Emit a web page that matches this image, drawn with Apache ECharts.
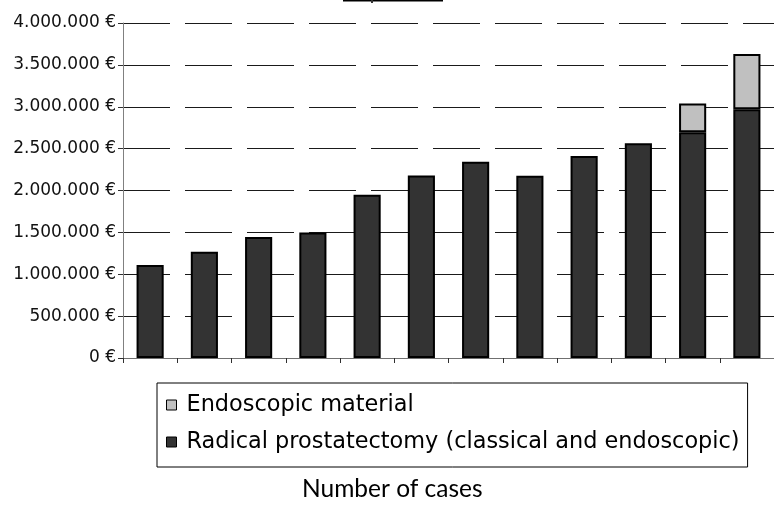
<!DOCTYPE html>
<html>
<head>
<meta charset="utf-8">
<style>
  html, body { margin: 0; padding: 0; background: #fff; }
  #chart { width: 774px; height: 509px; }
</style>
<script src="https://cdn.jsdelivr.net/npm/echarts@6/dist/echarts.min.js"></script>
</head>
<body>
<div id="chart"></div>
<script>
// Twelve yearly groups of cases, costs in euro
const categories = ['1', '2', '3', '4', '5', '6', '7', '8', '9', '10', '11', '12'];
const prostatectomyCost = [1110000, 1270000, 1445000, 1500000, 1950000, 2178000, 2342000, 2175000, 2413000, 2565000, 2696000, 2969000];
const endoscopicMaterialCost = [null, null, null, null, null, null, null, null, null, null, 344000, 661000];
const yTicks = [0, 500000, 1000000, 1500000, 2000000, 2500000, 3000000, 3500000, 4000000];

const nameMaterial = 'Endoscopic material';
const nameProstatectomy = 'Radical prostatectomy (classical and endoscopic)';
const xTitle = 'Number of cases';

function euro(v) {
  return String(v).replace(/\B(?=(\d{3})+(?!\d))/g, '.') + ' €';
}

const chart = echarts.init(document.getElementById('chart'));
chart.setOption({
  animation: false,
  backgroundColor: '#fff',
  grid: { left: 123, top: 23, width: 661, height: 335, containLabel: false },
  legend: {
    orient: 'vertical',
    left: 157,
    top: 383,
    padding: [11, 8, 14, 9],
    itemGap: 15,
    itemWidth: 10,
    itemHeight: 10,
    icon: 'rect',
    borderColor: '#000',
    borderWidth: 1,
    textStyle: { fontFamily: 'DejaVu Sans', fontSize: 22.4, color: '#000', padding: [0, 0, 0, 5] },
    data: [
      { name: nameMaterial, itemStyle: { color: '#c0c0c0', borderColor: '#000', borderWidth: 1 } },
      { name: nameProstatectomy, itemStyle: { color: '#333333', borderColor: '#000', borderWidth: 1 } }
    ]
  },
  xAxis: {
    type: 'category',
    data: categories,
    axisLine: { lineStyle: { color: '#707070', width: 1 } },
    axisTick: { show: true, length: 5, lineStyle: { color: '#303030' } },
    axisLabel: { show: false },
    splitLine: { show: false }
  },
  yAxis: {
    type: 'value',
    min: yTicks[0],
    max: yTicks[yTicks.length - 1],
    interval: yTicks[1] - yTicks[0],
    axisLine: { show: true, lineStyle: { color: '#808080', width: 1 } },
    axisTick: { show: true, length: 5, lineStyle: { color: '#303030' } },
    axisLabel: {
      formatter: euro,
      fontFamily: 'DejaVu Sans',
      fontSize: 17,
      color: '#111',
      margin: 7
    },
    splitLine: {
      show: true,
      lineStyle: { color: '#1a1a1a', width: 1, type: [47, 15], dashOffset: 0 }
    }
  },
  series: [
    {
      name: nameProstatectomy,
      type: 'bar',
      stack: 'cost',
      barWidth: '50%',
      data: prostatectomyCost,
      itemStyle: { color: '#333333', borderColor: '#000', borderWidth: 2 }
    },
    {
      name: nameMaterial,
      type: 'bar',
      stack: 'cost',
      barWidth: '50%',
      data: endoscopicMaterialCost,
      itemStyle: { color: '#c0c0c0', borderColor: '#000', borderWidth: 2 }
    }
  ],
  graphic: [
    {
      type: 'text',
      left: 302,
      top: 477,
      style: { text: xTitle, fontFamily: 'Lato', fontSize: 24.5, fill: '#000' }
    },
    {
      // underline of the heading above the plot
      type: 'line',
      shape: { x1: 343, y1: 0.5, x2: 443, y2: 0.5 },
      style: { stroke: '#000', lineWidth: 2 }
    },
    {
      type: 'rect',
      shape: { x: 371, y: 0, width: 2, height: 3 },
      style: { fill: '#333' }
    }
  ]
});
</script>
</body>
</html>
